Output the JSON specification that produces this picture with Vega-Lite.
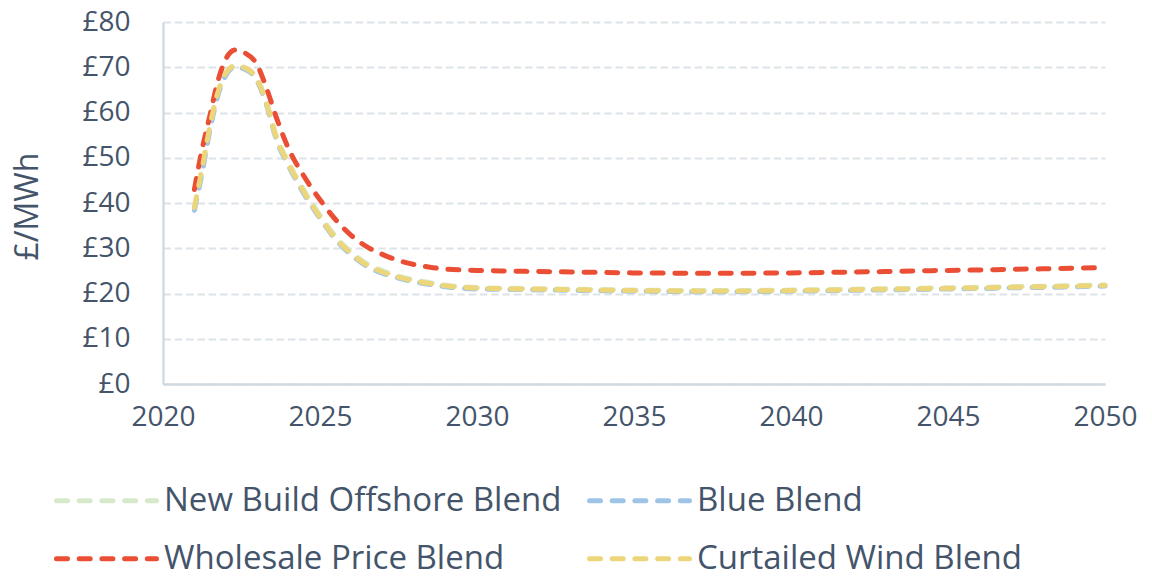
{
  "$schema": "https://vega.github.io/schema/vega-lite/v6.json",
  "width": 942,
  "height": 362,
  "autosize": "none",
  "padding": {"left": 163, "top": 22, "right": 47, "bottom": 195},
  "background": "white",
  "config": {"view": {"stroke": null}, "font": "Open Sans"},
  "datasets": {
    "rows": [
      {"series":"New Build Offshore Blend","year":2021,"value":39},
      {"series":"New Build Offshore Blend","year":2021.25,"value":47.8},
      {"series":"New Build Offshore Blend","year":2021.5,"value":57.2},
      {"series":"New Build Offshore Blend","year":2021.75,"value":64.5},
      {"series":"New Build Offshore Blend","year":2022,"value":68.7},
      {"series":"New Build Offshore Blend","year":2022.3,"value":70.3},
      {"series":"New Build Offshore Blend","year":2022.6,"value":69.9},
      {"series":"New Build Offshore Blend","year":2023,"value":67.4},
      {"series":"New Build Offshore Blend","year":2023.3,"value":62.3},
      {"series":"New Build Offshore Blend","year":2023.6,"value":55.0},
      {"series":"New Build Offshore Blend","year":2024,"value":49.0},
      {"series":"New Build Offshore Blend","year":2024.5,"value":42.7},
      {"series":"New Build Offshore Blend","year":2025,"value":37.3},
      {"series":"New Build Offshore Blend","year":2025.5,"value":32.6},
      {"series":"New Build Offshore Blend","year":2026,"value":29.1},
      {"series":"New Build Offshore Blend","year":2026.5,"value":26.6},
      {"series":"New Build Offshore Blend","year":2027,"value":25.0},
      {"series":"New Build Offshore Blend","year":2027.5,"value":23.85},
      {"series":"New Build Offshore Blend","year":2028,"value":23.0},
      {"series":"New Build Offshore Blend","year":2028.5,"value":22.4},
      {"series":"New Build Offshore Blend","year":2029,"value":21.85},
      {"series":"New Build Offshore Blend","year":2030,"value":21.3},
      {"series":"New Build Offshore Blend","year":2031,"value":21.15},
      {"series":"New Build Offshore Blend","year":2032,"value":21.05},
      {"series":"New Build Offshore Blend","year":2033,"value":20.95},
      {"series":"New Build Offshore Blend","year":2034,"value":20.85},
      {"series":"New Build Offshore Blend","year":2035,"value":20.75},
      {"series":"New Build Offshore Blend","year":2036,"value":20.7},
      {"series":"New Build Offshore Blend","year":2037,"value":20.65},
      {"series":"New Build Offshore Blend","year":2038,"value":20.65},
      {"series":"New Build Offshore Blend","year":2039,"value":20.7},
      {"series":"New Build Offshore Blend","year":2040,"value":20.75},
      {"series":"New Build Offshore Blend","year":2041,"value":20.85},
      {"series":"New Build Offshore Blend","year":2042,"value":20.95},
      {"series":"New Build Offshore Blend","year":2043,"value":21.05},
      {"series":"New Build Offshore Blend","year":2044,"value":21.15},
      {"series":"New Build Offshore Blend","year":2045,"value":21.25},
      {"series":"New Build Offshore Blend","year":2046,"value":21.35},
      {"series":"New Build Offshore Blend","year":2047,"value":21.5},
      {"series":"New Build Offshore Blend","year":2048,"value":21.6},
      {"series":"New Build Offshore Blend","year":2049,"value":21.75},
      {"series":"New Build Offshore Blend","year":2050,"value":21.9},

      {"series":"Blue Blend","year":2021,"value":38.4},
      {"series":"Blue Blend","year":2021.25,"value":46.8},
      {"series":"Blue Blend","year":2021.5,"value":56.3},
      {"series":"Blue Blend","year":2021.75,"value":63.8},
      {"series":"Blue Blend","year":2022,"value":68.2},
      {"series":"Blue Blend","year":2022.3,"value":70.0},
      {"series":"Blue Blend","year":2022.6,"value":69.6},
      {"series":"Blue Blend","year":2023,"value":66.9},
      {"series":"Blue Blend","year":2023.3,"value":61.6},
      {"series":"Blue Blend","year":2023.6,"value":54.2},
      {"series":"Blue Blend","year":2024,"value":48.2},
      {"series":"Blue Blend","year":2024.5,"value":41.9},
      {"series":"Blue Blend","year":2025,"value":36.6},
      {"series":"Blue Blend","year":2025.5,"value":31.9},
      {"series":"Blue Blend","year":2026,"value":28.5},
      {"series":"Blue Blend","year":2026.5,"value":26.0},
      {"series":"Blue Blend","year":2027,"value":24.45},
      {"series":"Blue Blend","year":2027.5,"value":23.4},
      {"series":"Blue Blend","year":2028,"value":22.6},
      {"series":"Blue Blend","year":2028.5,"value":22.0},
      {"series":"Blue Blend","year":2029,"value":21.5},
      {"series":"Blue Blend","year":2030,"value":21.0},
      {"series":"Blue Blend","year":2031,"value":20.9},
      {"series":"Blue Blend","year":2032,"value":20.8},
      {"series":"Blue Blend","year":2033,"value":20.7},
      {"series":"Blue Blend","year":2034,"value":20.6},
      {"series":"Blue Blend","year":2035,"value":20.5},
      {"series":"Blue Blend","year":2036,"value":20.45},
      {"series":"Blue Blend","year":2037,"value":20.4},
      {"series":"Blue Blend","year":2038,"value":20.4},
      {"series":"Blue Blend","year":2039,"value":20.45},
      {"series":"Blue Blend","year":2040,"value":20.5},
      {"series":"Blue Blend","year":2041,"value":20.6},
      {"series":"Blue Blend","year":2042,"value":20.7},
      {"series":"Blue Blend","year":2043,"value":20.8},
      {"series":"Blue Blend","year":2044,"value":20.9},
      {"series":"Blue Blend","year":2045,"value":21.0},
      {"series":"Blue Blend","year":2046,"value":21.1},
      {"series":"Blue Blend","year":2047,"value":21.25},
      {"series":"Blue Blend","year":2048,"value":21.35},
      {"series":"Blue Blend","year":2049,"value":21.5},
      {"series":"Blue Blend","year":2050,"value":21.65},

      {"series":"Wholesale Price Blend","year":2021,"value":43},
      {"series":"Wholesale Price Blend","year":2021.25,"value":52},
      {"series":"Wholesale Price Blend","year":2021.5,"value":59.5},
      {"series":"Wholesale Price Blend","year":2021.75,"value":67},
      {"series":"Wholesale Price Blend","year":2022,"value":71.8},
      {"series":"Wholesale Price Blend","year":2022.3,"value":73.8},
      {"series":"Wholesale Price Blend","year":2022.6,"value":73.2},
      {"series":"Wholesale Price Blend","year":2023,"value":70.5},
      {"series":"Wholesale Price Blend","year":2023.3,"value":65.3},
      {"series":"Wholesale Price Blend","year":2023.6,"value":59.1},
      {"series":"Wholesale Price Blend","year":2024,"value":52},
      {"series":"Wholesale Price Blend","year":2024.5,"value":45.8},
      {"series":"Wholesale Price Blend","year":2025,"value":40.7},
      {"series":"Wholesale Price Blend","year":2025.5,"value":36.3},
      {"series":"Wholesale Price Blend","year":2026,"value":32.8},
      {"series":"Wholesale Price Blend","year":2026.5,"value":30.3},
      {"series":"Wholesale Price Blend","year":2027,"value":28.6},
      {"series":"Wholesale Price Blend","year":2027.5,"value":27.3},
      {"series":"Wholesale Price Blend","year":2028,"value":26.4},
      {"series":"Wholesale Price Blend","year":2028.5,"value":25.8},
      {"series":"Wholesale Price Blend","year":2029,"value":25.4},
      {"series":"Wholesale Price Blend","year":2030,"value":25.1},
      {"series":"Wholesale Price Blend","year":2031,"value":24.95},
      {"series":"Wholesale Price Blend","year":2032,"value":24.85},
      {"series":"Wholesale Price Blend","year":2033,"value":24.75},
      {"series":"Wholesale Price Blend","year":2034,"value":24.65},
      {"series":"Wholesale Price Blend","year":2035,"value":24.55},
      {"series":"Wholesale Price Blend","year":2036,"value":24.5},
      {"series":"Wholesale Price Blend","year":2037,"value":24.45},
      {"series":"Wholesale Price Blend","year":2038,"value":24.45},
      {"series":"Wholesale Price Blend","year":2039,"value":24.5},
      {"series":"Wholesale Price Blend","year":2040,"value":24.55},
      {"series":"Wholesale Price Blend","year":2041,"value":24.65},
      {"series":"Wholesale Price Blend","year":2042,"value":24.75},
      {"series":"Wholesale Price Blend","year":2043,"value":24.85},
      {"series":"Wholesale Price Blend","year":2044,"value":25.0},
      {"series":"Wholesale Price Blend","year":2045,"value":25.1},
      {"series":"Wholesale Price Blend","year":2046,"value":25.2},
      {"series":"Wholesale Price Blend","year":2047,"value":25.35},
      {"series":"Wholesale Price Blend","year":2048,"value":25.45},
      {"series":"Wholesale Price Blend","year":2049,"value":25.6},
      {"series":"Wholesale Price Blend","year":2050,"value":25.7},

      {"series":"Curtailed Wind Blend","year":2021,"value":39},
      {"series":"Curtailed Wind Blend","year":2021.25,"value":47.8},
      {"series":"Curtailed Wind Blend","year":2021.5,"value":57.2},
      {"series":"Curtailed Wind Blend","year":2021.75,"value":64.5},
      {"series":"Curtailed Wind Blend","year":2022,"value":68.7},
      {"series":"Curtailed Wind Blend","year":2022.3,"value":70.3},
      {"series":"Curtailed Wind Blend","year":2022.6,"value":69.9},
      {"series":"Curtailed Wind Blend","year":2023,"value":67.2},
      {"series":"Curtailed Wind Blend","year":2023.3,"value":62},
      {"series":"Curtailed Wind Blend","year":2023.6,"value":54.6},
      {"series":"Curtailed Wind Blend","year":2024,"value":48.6},
      {"series":"Curtailed Wind Blend","year":2024.5,"value":42.3},
      {"series":"Curtailed Wind Blend","year":2025,"value":36.9},
      {"series":"Curtailed Wind Blend","year":2025.5,"value":32.2},
      {"series":"Curtailed Wind Blend","year":2026,"value":28.8},
      {"series":"Curtailed Wind Blend","year":2026.5,"value":26.3},
      {"series":"Curtailed Wind Blend","year":2027,"value":24.7},
      {"series":"Curtailed Wind Blend","year":2027.5,"value":23.6},
      {"series":"Curtailed Wind Blend","year":2028,"value":22.8},
      {"series":"Curtailed Wind Blend","year":2028.5,"value":22.2},
      {"series":"Curtailed Wind Blend","year":2029,"value":21.7},
      {"series":"Curtailed Wind Blend","year":2030,"value":21.2},
      {"series":"Curtailed Wind Blend","year":2031,"value":21.05},
      {"series":"Curtailed Wind Blend","year":2032,"value":20.95},
      {"series":"Curtailed Wind Blend","year":2033,"value":20.85},
      {"series":"Curtailed Wind Blend","year":2034,"value":20.75},
      {"series":"Curtailed Wind Blend","year":2035,"value":20.65},
      {"series":"Curtailed Wind Blend","year":2036,"value":20.6},
      {"series":"Curtailed Wind Blend","year":2037,"value":20.55},
      {"series":"Curtailed Wind Blend","year":2038,"value":20.55},
      {"series":"Curtailed Wind Blend","year":2039,"value":20.6},
      {"series":"Curtailed Wind Blend","year":2040,"value":20.65},
      {"series":"Curtailed Wind Blend","year":2041,"value":20.75},
      {"series":"Curtailed Wind Blend","year":2042,"value":20.85},
      {"series":"Curtailed Wind Blend","year":2043,"value":20.95},
      {"series":"Curtailed Wind Blend","year":2044,"value":21.05},
      {"series":"Curtailed Wind Blend","year":2045,"value":21.15},
      {"series":"Curtailed Wind Blend","year":2046,"value":21.25},
      {"series":"Curtailed Wind Blend","year":2047,"value":21.4},
      {"series":"Curtailed Wind Blend","year":2048,"value":21.5},
      {"series":"Curtailed Wind Blend","year":2049,"value":21.65},
      {"series":"Curtailed Wind Blend","year":2050,"value":21.8}
    ]
  },
  "data": {"name": "rows"},
  "encoding": {
    "x": {
      "field": "year", "type": "quantitative",
      "scale": {"domain": [2020, 2050], "nice": false, "zero": false},
      "axis": {
        "values": [2020, 2025, 2030, 2035, 2040, 2045, 2050],
        "format": "d", "title": null, "grid": false, "ticks": false,
        "domainColor": "#D0D8E0", "domainWidth": 2.3,
        "labelFont": "Open Sans", "labelFontSize": 28, "labelColor": "#44546A", "labelPadding": 19,
        "labelOverlap": false, "labelFlush": false
      }
    },
    "y": {
      "field": "value", "type": "quantitative",
      "scale": {"domain": [0, 80], "nice": false},
      "axis": {
        "values": [0, 10, 20, 30, 40, 50, 60, 70, 80],
        "labelExpr": "'£' + datum.value",
        "title": "£/MWh", "titleFont": "Open Sans", "titleFontSize": 32, "titleFontWeight": "normal", "titleColor": "#44546A",
        "titleX": -136, "titleY": 184, "titleAngle": -90, "titleAlign": "center", "titleBaseline": "middle",
        "grid": true, "gridDash": [7.5, 3.8], "gridColor": "#DEE3E8", "gridWidth": 2,
        "ticks": false, "domainColor": "#D0D8E0", "domainWidth": 2.3,
        "labelFont": "Open Sans", "labelFontSize": 28, "labelColor": "#44546A", "labelPadding": 33,
        "labelOverlap": false, "labelFlush": false
      }
    }
  },
  "layer": [
    {
      "transform": [{"filter": {"field": "series", "oneOf": ["New Build Offshore Blend", "Blue Blend"]}}],
      "mark": {"type": "line", "interpolate": "monotone", "strokeWidth": 5, "strokeDash": [11, 11.7], "strokeCap": "round"},
      "encoding": {
        "stroke": {
          "field": "series", "type": "nominal",
          "scale": {"domain": ["New Build Offshore Blend", "Blue Blend"], "range": ["#D6EACB", "#9EC5E8"]},
          "legend": {
            "orient": "none", "legendX": -109, "legendY": 426,
            "direction": "horizontal", "columns": 2, "title": null,
            "symbolType": "stroke", "symbolSize": 10000, "symbolStrokeWidth": 5, "symbolDash": [11, 11.7],
            "labelFont": "Open Sans", "labelFontSize": 33, "labelColor": "#44546A", "labelOffset": 5, "labelLimit": 700,
            "columnPadding": 17,
            "encode": {"symbols": {"update": {"strokeCap": {"value": "round"}}}}
          }
        }
      }
    },
    {
      "transform": [{"filter": {"field": "series", "oneOf": ["Wholesale Price Blend", "Curtailed Wind Blend"]}}],
      "mark": {"type": "line", "interpolate": "monotone", "strokeWidth": 5, "strokeDash": [11, 11.7], "strokeCap": "round"},
      "encoding": {
        "color": {
          "field": "series", "type": "nominal",
          "scale": {"domain": ["Wholesale Price Blend", "Curtailed Wind Blend"], "range": ["#EA4F35", "#EDD57A"]},
          "legend": {
            "orient": "none", "legendX": -109, "legendY": 484,
            "direction": "horizontal", "columns": 2, "title": null,
            "symbolType": "stroke", "symbolSize": 10000, "symbolStrokeWidth": 5, "symbolDash": [11, 11.7],
            "labelFont": "Open Sans", "labelFontSize": 33, "labelColor": "#44546A", "labelOffset": 5, "labelLimit": 700,
            "columnPadding": 74,
            "encode": {"symbols": {"update": {"strokeCap": {"value": "round"}}}}
          }
        }
      }
    }
  ]
}
